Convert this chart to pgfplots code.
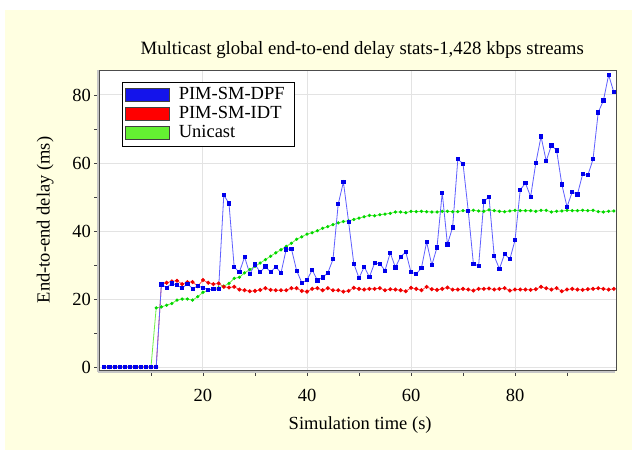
\documentclass[border=0pt]{standalone}
\usepackage{pgfplots}
\pgfplotsset{compat=1.18}
\usepackage{fontspec}
\setmainfont{Liberation Serif}
\definecolor{bgyellow}{RGB}{255,255,225}
\definecolor{dpfline}{RGB}{95,95,255}
\definecolor{dpfmark}{RGB}{0,0,235}
\definecolor{idtline}{RGB}{255,80,80}
\definecolor{idtmark}{RGB}{240,0,0}
\definecolor{uniline}{RGB}{110,240,70}
\definecolor{unimark}{RGB}{0,215,0}
\definecolor{swblue}{RGB}{20,20,235}
\definecolor{swred}{RGB}{255,0,0}
\definecolor{swgreen}{RGB}{100,240,50}
\newcommand{\fs}{\fontsize{18.5bp}{22bp}\selectfont}
\newcommand{\fst}{\fontsize{18.8bp}{22bp}\selectfont}
\begin{document}
\begin{tikzpicture}
\useasboundingbox (0,0) rectangle (632bp,450bp);
\fill[white] (0,0) rectangle (632bp,450bp);
\fill[bgyellow] (5bp,0) rectangle (632bp,440bp);
\begin{axis}[
  name=ax,
  at={(99.5bp,79.5bp)}, anchor=south west,
  scale only axis, width=517.2bp, height=300.5bp,
  xmin=0.1, xmax=99.55, ymin=-1.0, ymax=87.35,
  axis background/.style={fill=white},
  xtick={20,40,60,80}, minor xtick={10,30,50,70,90},
  ytick={0,20,40,60,80}, minor ytick={10,30,50,70},
  tick align=outside, tick pos=left,
  major tick length=5bp, minor tick length=5bp,
  every tick/.style={gray!50!black, line width=0.8bp},
  grid=major, major grid style={gray!22, line width=1bp},
  axis line style={gray!60!black, line width=0.8bp},
  tick label style={font=\fs},
  xticklabel style={yshift=-10bp},
  /pgf/number format/assume math mode=true,
  xlabel={Simulation time (s)}, ylabel={End-to-end delay (ms)},
  label style={font=\fs},
  xlabel style={at={(axis description cs:0.504,-0.181)}, anchor=center},
  ylabel style={at={(axis description cs:-0.105,0.501)}, anchor=center},
  title={Multicast global end-to-end delay stats-1,428 kbps streams},
  title style={at={(axis description cs:0.508,1.068)}, anchor=center, yshift=-6pt, font=\fst},
  legend style={at={(axis description cs:0.043,0.961)}, anchor=north west,
    draw=black, line width=0.9bp, fill=white, font=\fs,
    inner xsep=3bp, inner ysep=4.5bp, row sep=2bp,
    nodes={inner sep=0bp, text height=13bp, text depth=4bp, text width=113bp},
    cells={anchor=west},
    /tikz/every odd column/.append style={column sep=9bp}},
]
\addlegendimage{legend image code/.code={\filldraw[draw=gray!50!black, line width=0.6bp, fill=swblue] (0bp,-6.5bp) rectangle (44bp,6.5bp);}}
\addlegendentry{PIM-SM-DPF}
\addlegendimage{legend image code/.code={\filldraw[draw=gray!50!black, line width=0.6bp, fill=swred] (0bp,-6.5bp) rectangle (44bp,6.5bp);}}
\addlegendentry{PIM-SM-IDT}
\addlegendimage{legend image code/.code={\filldraw[draw=gray!50!black, line width=0.6bp, fill=swgreen] (0bp,-6.5bp) rectangle (44bp,6.5bp);}}
\addlegendentry{Unicast}

% Unicast
\addplot[forget plot, color=uniline, line width=0.8bp, mark=*, mark size=1.2bp, mark options={fill=unimark, draw=unimark}] coordinates {
(1,0)(2,0)(3,0)(4,0)(5,0)(6,0)(7,0)(8,0)(9,0)(10,0)
(11,17.4)(12,17.7)(13,18.2)(14,18.7)(15,19.7)(16,20.0)(17,20.0)(18,19.7)(19,20.7)(20,22.0)
(21,22.6)(22,23.1)(23,23.3)(24,23.8)(25,24.6)(26,26.1)(27,26.4)(28,27.7)(29,28.7)(30,29.6)
(31,30.6)(32,31.6)(33,32.6)(34,33.6)(35,34.5)(36,35.5)(37,36.4)(38,37.6)(39,38.3)(40,39.1)
(41,39.5)(42,40.1)(43,40.8)(44,41.3)(45,41.9)(46,42.4)(47,42.8)(48,43.0)(49,43.4)(50,43.8)
(51,44.2)(52,44.6)(53,44.5)(54,44.8)(55,45.0)(56,45.2)(57,45.6)(58,45.6)(59,45.4)(60,45.8)
(61,45.7)(62,45.8)(63,45.7)(64,45.6)(65,45.6)(66,45.8)(67,45.8)(68,45.7)(69,45.7)(70,46.0)
(71,45.8)(72,46.1)(73,45.9)(74,45.8)(75,46.2)(76,46.0)(77,45.8)(78,45.7)(79,45.9)(80,46.1)
(81,46.0)(82,46.0)(83,46.0)(84,45.8)(85,46.1)(86,46.1)(87,45.6)(88,45.8)(89,45.9)(90,46.1)
(91,46.0)(92,46.0)(93,46.1)(94,46.0)(95,46.1)(96,45.7)(97,45.6)(98,45.8)(99,45.9)
};
% PIM-SM-IDT
\addplot[forget plot, color=idtline, line width=0.8bp, mark=*, mark size=1.6bp, mark options={fill=idtmark, draw=idtmark}] coordinates {
(1,0)(2,0)(3,0)(4,0)(5,0)(6,0)(7,0)(8,0)(9,0)(10,0)(11,0)
(12,24.4)(13,24.8)(14,25.2)(15,25.4)(16,24.4)(17,25.0)(18,25.0)(19,23.8)(20,25.6)
(21,24.8)(22,24.4)(23,24.6)(24,23.6)(25,23.4)(26,23.6)(27,22.8)(28,22.6)(29,22.3)(30,22.4)
(31,22.7)(32,23.2)(33,22.7)(34,22.6)(35,22.6)(36,22.6)(37,23.2)(38,23.2)(39,22.4)(40,22.2)
(41,23.0)(42,23.2)(43,22.6)(44,23.2)(45,22.6)(46,22.6)(47,22.2)(48,22.4)(49,23.3)(50,23.0)
(51,22.8)(52,23.0)(53,23.0)(54,23.2)(55,22.6)(56,22.9)(57,22.8)(58,22.6)(59,22.3)(60,23.3)
(61,23.0)(62,22.6)(63,23.6)(64,22.9)(65,22.7)(66,23.0)(67,23.4)(68,22.8)(69,22.8)(70,23.0)
(71,22.8)(72,22.5)(73,23.0)(74,23.0)(75,23.1)(76,22.8)(77,23.0)(78,23.2)(79,22.5)(80,22.8)
(81,22.8)(82,22.8)(83,22.7)(84,22.9)(85,23.6)(86,23.2)(87,22.8)(88,23.2)(89,22.3)(90,22.8)
(91,23.0)(92,22.8)(93,22.7)(94,22.9)(95,23.0)(96,23.2)(97,23.0)(98,22.8)(99,23.0)
};
% PIM-SM-DPF
\addplot[forget plot, color=dpfline, line width=0.8bp, mark=square*, mark size=1.6bp, mark options={fill=dpfmark, draw=dpfmark}] coordinates {
(1,0)(2,0)(3,0)(4,0)(5,0)(6,0)(7,0)(8,0)(9,0)(10,0)(11,0)
(12,24.3)(13,23.4)(14,24.6)(15,24.1)(16,23.2)(17,24.5)(18,23.1)(19,23.8)(20,23.4)
(21,22.7)(22,22.9)(23,22.9)(24,50.6)(25,48.1)(26,29.4)(27,27.9)(28,32.4)(29,27.4)(30,30.2)
(31,27.9)(32,29.6)(33,27.9)(34,29.5)(35,27.7)(36,34.6)(37,34.8)(38,28.4)(39,24.8)(40,25.6)
(41,28.6)(42,25.5)(43,26.4)(44,27.7)(45,31.7)(46,47.9)(47,54.4)(48,42.7)(49,30.4)(50,26.2)
(51,29.5)(52,26.5)(53,30.6)(54,30.4)(55,28.4)(56,33.6)(57,29.3)(58,32.5)(59,33.8)(60,27.9)
(61,27.4)(62,29.1)(63,36.8)(64,30.0)(65,35.2)(66,51.3)(67,36.1)(68,41.1)(69,61.1)(70,59.8)
(71,46.0)(72,30.3)(73,29.8)(74,48.7)(75,50.0)(76,32.6)(77,28.9)(78,33.3)(79,31.7)(80,37.3)
(81,52.1)(82,54.1)(83,50.1)(84,60.0)(85,67.8)(86,60.6)(87,65.2)(88,63.7)(89,53.7)(90,47.1)
(91,51.5)(92,50.8)(93,56.7)(94,56.4)(95,61.1)(96,74.9)(97,78.4)(98,85.9)(99,80.8)
};
\end{axis}
\draw[gray!45, line width=2.5bp] (98bp,78bp) -- (98bp,380bp);
\draw[gray!45, line width=2.5bp] (98bp,78bp) -- (615bp,78bp);
\end{tikzpicture}
\end{document}
